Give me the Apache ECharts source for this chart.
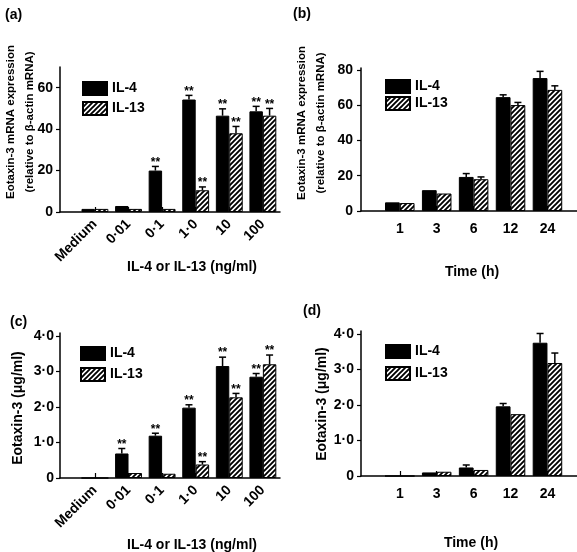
<!DOCTYPE html>
<html>
<head>
<meta charset="utf-8">
<script src="https://cdn.jsdelivr.net/npm/echarts@6/dist/echarts.min.js"></script>
<style>html,body{margin:0;padding:0;background:#fff;}#c{width:577px;height:552px;}</style>
</head>
<body>
<div id="c"></div>
<script>
// ---- categories / tick labels ----
const catsDose = ['Medium', '0·01', '0·1', '1·0', '10', '100'];
const catsTime = ['1', '3', '6', '12', '24'];
const ticksA = [0, 20, 40, 60];
const ticksB = [0, 20, 40, 60, 80];
const ticksCD = [0, 1, 2, 3, 4];

// ---- panel (a): mRNA vs dose ----
const aIL4 = [1.5, 2.9, 20.0, 54.3, 46.5, 48.6];
const aIL4Err = [0, 0, 2.0, 2.0, 3.3, 2.4];
const aIL4Sig = [0, 0, 1, 1, 1, 1];
const aIL13 = [1.5, 1.5, 1.5, 10.5, 38.0, 46.5];
const aIL13Err = [0, 0, 0, 1.6, 3.3, 3.5];
const aIL13Sig = [0, 0, 0, 1, 1, 1];

// ---- panel (b): mRNA vs time ----
const bIL4 = [4.9, 11.8, 19.3, 64.5, 75.3];
const bIL4Err = [0, 0, 1.9, 1.3, 3.8];
const bIL13 = [4.5, 9.9, 18.0, 60.0, 68.6];
const bIL13Err = [0, 0, 1.3, 1.5, 2.3];

// ---- panel (c): protein vs dose ----
const cIL4 = [0, 0.69, 1.19, 1.98, 3.15, 2.85];
const cIL4Err = [0, 0.14, 0.07, 0.08, 0.25, 0.09];
const cIL4Sig = [0, 1, 1, 1, 1, 1];
const cIL13 = [0, 0.14, 0.12, 0.38, 2.27, 3.20];
const cIL13Err = [0, 0, 0, 0.08, 0.11, 0.26];
const cIL13Sig = [0, 0, 0, 1, 1, 1];

// ---- panel (d): protein vs time ----
const dIL4 = [0, 0.10, 0.24, 1.96, 3.75];
const dIL4Err = [0, 0, 0.07, 0.08, 0.26];
const dIL13 = [0, 0.12, 0.17, 1.74, 3.18];
const dIL13Err = [0, 0, 0, 0, 0.28];

const FONT = '"Liberation Sans", Arial, sans-serif';

function hatchCanvas() {
  const p = 5, c = document.createElement('canvas');
  c.width = p; c.height = p;
  const g = c.getContext('2d');
  g.fillStyle = '#fff'; g.fillRect(0, 0, p, p);
  g.strokeStyle = '#000'; g.lineWidth = 1.9; g.lineCap = 'square';
  g.beginPath();
  g.moveTo(-1, p + 1); g.lineTo(p + 1, -1);
  g.moveTo(-2, 2); g.lineTo(2, -2);
  g.moveTo(p - 2, p + 2); g.lineTo(p + 2, p - 2);
  g.stroke();
  return c;
}
const hatch = { image: hatchCanvas(), repeat: 'repeat' };

const zeros = n => new Array(n).fill(0);
const pts = vals => vals.map((v, i) => [i, v]);
const errPts = (vals, errs, sig) => vals.map((v, i) => [i, v, errs[i], sig ? sig[i] : 0]);

function errRender(side) {
  return function (params, api) {
    const x = api.value(0), v = api.value(1), e = api.value(2), s = api.value(3);
    const band = api.size([1, 0])[0];
    const base = api.coord([x, v]);
    const cx = base[0] + side * 0.2 * band;
    const top = api.coord([x, v + e])[1];
    const ch = [];
    if (e > 0) {
      ch.push({ type: 'line', shape: { x1: cx, y1: base[1], x2: cx, y2: top }, style: { stroke: '#000', lineWidth: 1.5 } });
      ch.push({ type: 'line', shape: { x1: cx - 3.5, y1: top, x2: cx + 3.5, y2: top }, style: { stroke: '#000', lineWidth: 1.5 } });
    }
    if (s) {
      ch.push({ type: 'text', x: cx, y: top + 2, style: { text: '**', align: 'center', verticalAlign: 'bottom', font: 'bold 12px ' + FONT, fill: '#000' } });
    }
    return { type: 'group', children: ch };
  };
}

const grids = [
  { left: 60, top: 67, width: 220, height: 145 },
  { left: 361, top: 68, width: 216, height: 143 },
  { left: 60, top: 333, width: 220, height: 145 },
  { left: 361, top: 331, width: 216, height: 145 }
];

const axisLine = { show: true, onZero: false, lineStyle: { color: '#000', width: 1.5 } };
const lblStyle = { color: '#000', fontFamily: FONT, fontWeight: 'bold', fontSize: 14 };
const decFmt = v => (v === 0 ? '0' : v.toFixed(1).replace('.', '·'));

function xAx(gi, cats, min, max, rotate, margin) {
  const idx = cats.map((c, i) => i);
  return {
    type: 'value', gridIndex: gi, min: min, max: max,
    axisLine: axisLine, splitLine: { show: false },
    axisTick: { show: true, inside: true, length: 5, customValues: idx, lineStyle: { color: '#000', width: 1.2 } },
    axisLabel: Object.assign({ customValues: idx, rotate: rotate, margin: margin, formatter: v => cats[Math.round(v)] }, lblStyle)
  };
}
function yAx(gi, max, ticks, fmt, margin) {
  return {
    type: 'value', gridIndex: gi, min: 0, max: max,
    axisLine: axisLine, splitLine: { show: false },
    axisTick: { show: true, inside: false, length: 4, customValues: ticks, lineStyle: { color: '#000', width: 1.2 } },
    axisLabel: Object.assign({ customValues: ticks, margin: margin, formatter: fmt }, lblStyle)
  };
}

const series = [];
function addPanel(gi, il4, il4e, il4s, il13, il13e, il13s) {
  series.push({ type: 'bar', name: 'IL-4', xAxisIndex: gi, yAxisIndex: gi, data: pts(il4), barWidth: '40%', barGap: '0%',
    itemStyle: { color: '#000', borderColor: '#000', borderWidth: 1 } });
  series.push({ type: 'bar', name: 'IL-13', xAxisIndex: gi, yAxisIndex: gi, data: pts(il13), barWidth: '40%', barGap: '0%',
    itemStyle: { color: hatch, borderColor: '#000', borderWidth: 1 } });
  series.push({ type: 'custom', name: 'e4_' + gi, xAxisIndex: gi, yAxisIndex: gi, clip: false, z: 5,
    renderItem: errRender(-1), data: errPts(il4, il4e, il4s), encode: { x: 0, y: 1 } });
  series.push({ type: 'custom', name: 'e13_' + gi, xAxisIndex: gi, yAxisIndex: gi, clip: false, z: 5,
    renderItem: errRender(1), data: errPts(il13, il13e, il13s), encode: { x: 0, y: 1 } });
}
addPanel(0, aIL4, aIL4Err, aIL4Sig, aIL13, aIL13Err, aIL13Sig);
addPanel(1, bIL4, bIL4Err, null, bIL13, bIL13Err, null);
addPanel(2, cIL4, cIL4Err, cIL4Sig, cIL13, cIL13Err, cIL13Sig);
addPanel(3, dIL4, dIL4Err, null, dIL13, dIL13Err, null);

function legend(left, top, gap) {
  return { data: ['IL-4', 'IL-13'], orient: 'vertical', left: left, top: top, padding: 0, itemGap: gap,
    itemWidth: 24, itemHeight: 13, icon: 'rect', selectedMode: false,
    textStyle: { color: '#000', fontFamily: FONT, fontWeight: 'bold', fontSize: 14 } };
}

function txt(x, y, text, size, rot, align) {
  return { type: 'text', x: x, y: y, rotation: rot || 0,
    style: { text: text, align: align || 'center', verticalAlign: 'middle', font: 'bold ' + size + 'px ' + FONT, fill: '#000' } };
}

const chart = echarts.init(document.getElementById('c'), null, { renderer: 'canvas' });
chart.setOption({
  animation: false,
  backgroundColor: '#fff',
  grid: grids,
  xAxis: [
    xAx(0, catsDose, -1.04, 5.51, 45, 10),
    xAx(1, catsTime, -1.05, 4.8, 0, 11),
    xAx(2, catsDose, -1.04, 5.51, 45, 10),
    xAx(3, catsTime, -1.05, 4.8, 0, 11)
  ],
  yAxis: [
    yAx(0, 70, ticksA, v => String(v), 7),
    yAx(1, 81, ticksB, v => String(v), 8),
    yAx(2, 4.08, ticksCD, decFmt, 6),
    yAx(3, 4.08, ticksCD, decFmt, 7)
  ],
  legend: [legend(82, 81, 5), legend(385, 79, 2), legend(80, 346, 6), legend(385, 344, 7)],
  series: series,
  graphic: [
    txt(5, 15, '(a)', 14, 0, 'left'),
    txt(293, 14, '(b)', 14, 0, 'left'),
    txt(10, 322, '(c)', 14, 0, 'left'),
    txt(303, 311, '(d)', 14, 0, 'left'),
    txt(11, 122, 'Eotaxin-3 mRNA expression', 11.5, Math.PI / 2),
    txt(30, 122, '(relative to β-actin mRNA)', 11.5, Math.PI / 2),
    txt(302, 123, 'Eotaxin-3 mRNA expression', 11.5, Math.PI / 2),
    txt(321, 123, '(relative to β-actin mRNA)', 11.5, Math.PI / 2),
    txt(18, 408, 'Eotaxin-3 (μg/ml)', 14, Math.PI / 2),
    txt(322, 404, 'Eotaxin-3 (μg/ml)', 14, Math.PI / 2),
    txt(192, 267, 'IL-4 or IL-13 (ng/ml)', 14),
    txt(472, 272, 'Time (h)', 14),
    txt(192, 545, 'IL-4 or IL-13 (ng/ml)', 14),
    txt(471, 543, 'Time (h)', 14)
  ]
});
</script>
</body>
</html>
